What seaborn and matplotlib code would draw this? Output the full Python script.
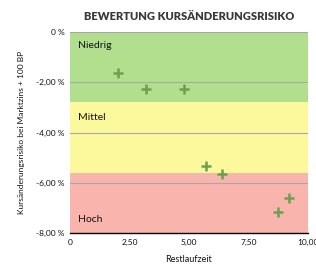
import matplotlib
matplotlib.use("Agg")
import matplotlib.pyplot as plt
import seaborn as sns
import pandas as pd
from matplotlib.ticker import FuncFormatter

# Data
restlaufzeit = [2.0, 3.2, 4.8, 5.7, 6.4, 9.2, 8.75]
risiko = [-1.62, -2.28, -2.28, -5.34, -5.66, -6.6, -7.18]
band_names = ["Niedrig", "Mittel", "Hoch"]
band_upper = [0.0, -2.8, -5.6]
band_lower = [-2.8, -5.6, -8.0]
band_colors = ["#b2df8e", "#fbf99c", "#f9b4ae"]
yticks = [0, -2, -4, -6, -8]
xticks = [0, 2.5, 5, 7.5, 10]

df = pd.DataFrame({"Restlaufzeit": restlaufzeit, "Risiko": risiko})

sns.set_theme(style="white")
plt.rcParams["font.family"] = ["Lato", "DejaVu Sans"]

fig = plt.figure(figsize=(3.16, 2.67), dpi=100)
ax = fig.add_axes([70 / 316, 34 / 267, 238 / 316, 201 / 267])

for name, up, lo, col in zip(band_names, band_upper, band_lower, band_colors):
    ax.axhspan(lo, up, color=col, zorder=0, lw=0)

for y in yticks:
    if y != -8:
        ax.axhline(y, color="#a8a8a8", lw=0.8, zorder=1)

sns.scatterplot(data=df, x="Restlaufzeit", y="Risiko", marker="+", s=60,
                color="#6f9f4e", linewidth=1.8, ax=ax, zorder=3)

ax.text(0.35, -0.55, "Niedrig", fontsize=7.5, va="center", ha="left", color="#111111")
ax.text(0.35, -3.4, "Mittel", fontsize=7.5, va="center", ha="left", color="#111111")
ax.text(0.35, -7.45, "Hoch", fontsize=7.5, va="center", ha="left", color="#111111")

ax.set_xlim(0, 10)
ax.set_ylim(-8, 0)
ax.set_xticks(xticks)
ax.set_yticks(yticks)
ax.xaxis.set_major_formatter(FuncFormatter(lambda v, p: "0" if v == 0 else f"{v:.2f}".replace(".", ",")))
ax.yaxis.set_major_formatter(FuncFormatter(lambda v, p: "0 %" if v == 0 else f"{v:.2f} %".replace(".", ",")))
ax.tick_params(axis="both", labelsize=6, length=0, pad=4, colors="#111111")

for s in ["top", "right", "left"]:
    ax.spines[s].set_visible(False)
ax.spines["bottom"].set_color("black")
ax.spines["bottom"].set_linewidth(1.0)

ax.set_xlabel("Restlaufzeit", fontsize=6.5, labelpad=7, color="#111111")
ax.set_ylabel("Kursänderungsrisiko bei Marktzins + 100 BP", fontsize=6, labelpad=8, color="#111111")
ax.set_title("BEWERTUNG KURSÄNDERUNGSRISIKO", fontsize=8, fontweight="heavy", color="#3a3a3a", pad=9)

fig.savefig("out.png", dpi=100)
